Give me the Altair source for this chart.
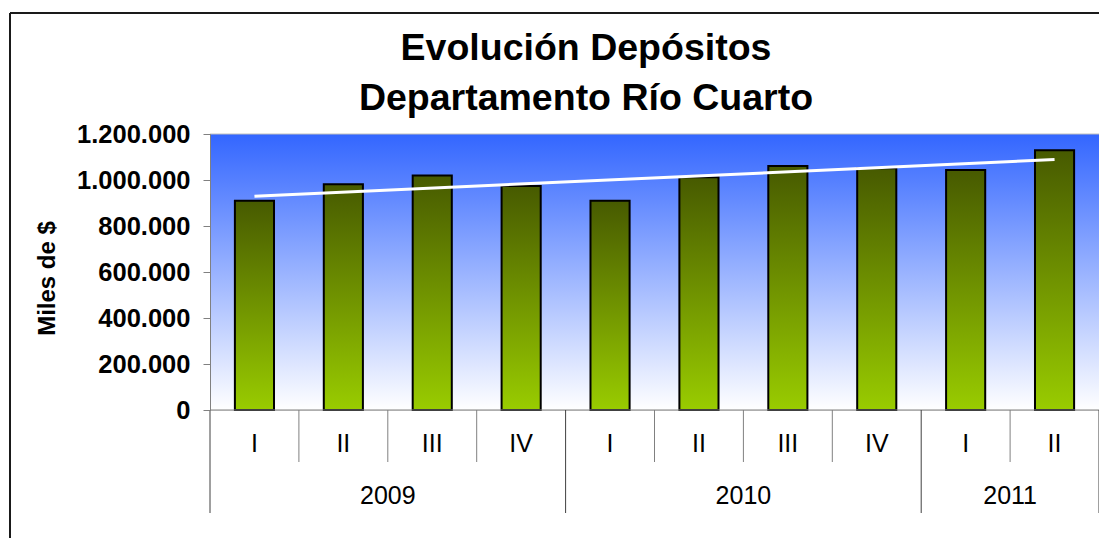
import altair as alt
import pandas as pd

# ---- data ----
title_lines = ["Evolución Depósitos", "Departamento Río Cuarto"]
quarters = ["I", "II", "III", "IV", "I", "II", "III", "IV", "I", "II"]
years = ["2009", "2009", "2009", "2009", "2010", "2010", "2010", "2010", "2011", "2011"]
values = [910000, 981000, 1020000, 974000, 910000, 1012000, 1061000, 1051000, 1043000, 1129000]
y_ticks = [0, 200000, 400000, 600000, 800000, 1000000, 1200000]

W, H = 889, 276
FONT = "Liberation Sans"

n = len(values)
df = pd.DataFrame({
    "quarter": quarters,
    "year": years,
    "value": values,
    "idx": list(range(n)),
})
df["center"] = df["idx"] + 0.5
df["x0"] = df["idx"] + 0.28
df["x1"] = df["idx"] + 0.72

# category boundaries: long lines where a new year begins, short ones otherwise
bounds = []
for i in range(n + 1):
    is_year = i == 0 or i == n or years[i] != years[i - 1]
    bounds.append({"b": i, "kind": "year" if is_year else "quarter"})
bdf = pd.DataFrame(bounds)

xscale = alt.Scale(domain=[0, n], nice=False, zero=False)


def X(field):
    return alt.X(field, type="quantitative", scale=xscale, axis=None)


Y = alt.Y(
    "value:Q",
    scale=alt.Scale(domain=[0, 1200000], nice=False),
    axis=alt.Axis(
        values=y_ticks,
        labelExpr="replace(format(datum.value, ','), /,/g, '.')",
        labelFont=FONT,
        labelFontSize=25.5,
        labelFontWeight="bold",
        labelColor="black",
        labelPadding=13,
        tickSize=7,
        tickColor="#808080",
        domainColor="#808080",
        grid=False,
        zindex=1,
        title="Miles de $",
        titleFont=FONT,
        titleFontSize=24,
        titleFontWeight="bold",
        titleColor="black",
        titleAngle=-90,
        titleX=-163,
        titleY=144,
        titleAlign="center",
        titleBaseline="middle",
    ),
)

one = pd.DataFrame({"k": [0]})

background = alt.Chart(one).mark_rect(
    color=alt.Gradient(
        gradient="linear",
        stops=[
            alt.GradientStop(color="#3366ff", offset=0),
            alt.GradientStop(color="#ffffff", offset=1),
        ],
        x1=0, x2=0, y1=0, y2=1,
    )
).encode(x=alt.value(0), x2=alt.value(W), y=alt.value(0), y2=alt.value(H))

top_edge = alt.Chart(one).mark_rule(color="#c0c0c0", strokeWidth=1).encode(
    x=alt.value(0), x2=alt.value(W), y=alt.value(0)
)

bars = alt.Chart(df).mark_bar(
    color=alt.Gradient(
        gradient="linear",
        stops=[
            alt.GradientStop(color="#475a00", offset=0),
            alt.GradientStop(color="#99cc00", offset=1),
        ],
        x1=0, x2=0, y1=0, y2=1,
    ),
    stroke="black",
    strokeWidth=2,
).encode(x=X("x0"), x2="x1", y=Y, y2=alt.datum(0))

trend = alt.Chart(df).transform_regression(
    "center", "value", method="linear", extent=[0.5, n - 0.5]
).mark_line(color="white", strokeWidth=3).encode(x=X("center"), y=Y)

x_domain = alt.Chart(one).mark_rule(color="#808080", strokeWidth=1).encode(
    x=alt.value(0), x2=alt.value(W), y=alt.value(H)
)

q_sep = alt.Chart(bdf).transform_filter("datum.kind == 'quarter'").mark_rule(
    color="#808080", strokeWidth=1
).encode(x=X("b"), y=alt.value(H), y2=alt.value(H + 52))

y_sep = alt.Chart(bdf).transform_filter("datum.kind == 'year'").mark_rule(
    color="#404040", strokeWidth=1
).encode(x=X("b"), y=alt.value(H), y2=alt.value(H + 103))

q_labels = alt.Chart(df).mark_text(
    font=FONT, fontSize=25, color="black", baseline="middle", align="center"
).encode(x=X("center"), y=alt.value(310), text="quarter:N")

yr_labels = alt.Chart(df).transform_aggregate(
    xc="mean(center)", groupby=["year"]
).mark_text(
    font=FONT, fontSize=25, color="black", baseline="middle", align="center"
).encode(x=X("xc"), y=alt.value(362), text="year:N")

title_df = pd.DataFrame({"t": title_lines, "line": list(range(len(title_lines)))})


def title_line(k, ypix):
    return alt.Chart(title_df).transform_filter(f"datum.line == {k}").mark_text(
        font=FONT, fontSize=37.5, fontWeight="bold", color="black",
        baseline="alphabetic", align="center",
    ).encode(x=alt.value(376), y=alt.value(ypix), text="t:N")


title1 = title_line(0, -74)
title2 = title_line(1, -24)

border_top = alt.Chart(one).mark_rule(color="#1a1a1a", strokeWidth=2).encode(
    x=alt.value(-200), x2=alt.value(W + 10), y=alt.value(-121)
)
border_left = alt.Chart(one).mark_rule(color="#1a1a1a", strokeWidth=2).encode(
    x=alt.value(-200), y=alt.value(-121), y2=alt.value(H + 140)
)

chart = alt.layer(
    background, top_edge, bars, trend, x_domain, q_sep, y_sep,
    q_labels, yr_labels, title1, title2, border_top, border_left,
).properties(
    width=W,
    height=H,
    autosize=alt.AutoSizeParams(type="none"),
    padding={"left": 202, "top": 126, "right": 0, "bottom": 128},
).configure_view(stroke=None).configure(background="white")

chart.save("out.html", embed_options={"renderer": "svg", "actions": False})
